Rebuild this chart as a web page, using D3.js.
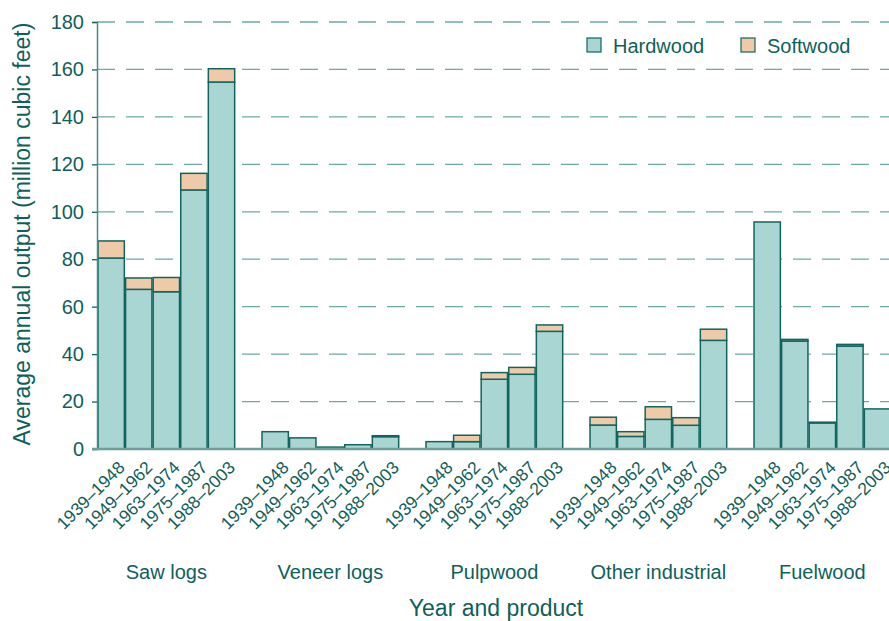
<!DOCTYPE html>
<html>
<head>
<meta charset="utf-8">
<script src="https://cdn.jsdelivr.net/npm/d3@7"></script>
<style>
  body { margin: 0; background: #fff; }
  svg text { font-family: "Liberation Sans", Arial, sans-serif; fill: #0f5f5a; }
</style>
</head>
<body>
<div id="chart"></div>
<script>
// chart data
var products = ["Saw logs", "Veneer logs", "Pulpwood", "Other industrial", "Fuelwood"];
var periods = ["1939\u20131948", "1949\u20131962", "1963\u20131974", "1975\u20131987", "1988\u20132003"];
var hardwood = [
  [80.5, 67.3, 66.3, 109.2, 154.7],
  [7.3, 4.7, 0.8, 1.8, 5.2],
  [3.1, 3.1, 29.4, 31.5, 49.6],
  [10.1, 5.3, 12.5, 10.0, 45.8],
  [95.7, 45.5, 11.0, 43.4, 16.9]
];
var softwood = [
  [7.2, 4.8, 6.0, 7.0, 5.6],
  [0, 0, 0, 0, 0.4],
  [0, 2.7, 2.8, 2.9, 2.7],
  [3.3, 2.0, 5.3, 3.2, 4.7],
  [0, 0.7, 0.3, 0.7, 0]
];
var yTicks = [0, 20, 40, 60, 80, 100, 120, 140, 160, 180];

// svg canvas dimensions
var W = 889, H = 621;
var margin = { top: 22, right: 0, bottom: 172, left: 97 },
    height = H - margin.top - margin.bottom;

var colHard = "#a9d5d3", colSoft = "#efcaa8", colStroke = "#12655f";

var svg = d3.select("#chart").append("svg")
    .attr("width", W)
    .attr("height", H);

// scales
var x0 = d3.scaleBand().domain(products).range([98, 890.7]).paddingInner(27.33 / 164).paddingOuter(0);
var x1 = d3.scaleBand().domain(periods).range([0, x0.bandwidth()]).paddingInner(0.045).paddingOuter(0);
var y = d3.scaleLinear().domain([0, 180]).range([margin.top + height, margin.top]);

// dashed grid lines
svg.append("g")
  .selectAll("line")
  .data(yTicks.slice(1))
  .enter().append("line")
    .attr("x1", margin.left)
    .attr("x2", W)
    .attr("y1", function(d) { return y(d); })
    .attr("y2", function(d) { return y(d); })
    .attr("stroke", "#6ea9a5")
    .attr("stroke-width", 1.3)
    .attr("stroke-dasharray", "18,11");

// bars
var rows = [];
products.forEach(function(p, g) {
  periods.forEach(function(per, i) {
    rows.push({ product: p, period: per, hard: hardwood[g][i], soft: softwood[g][i] });
  });
});

var bars = svg.append("g").selectAll("g")
  .data(rows)
  .enter().append("g")
    .attr("transform", function(d) { return "translate(" + (x0(d.product) + x1(d.period)) + ",0)"; });

bars.append("rect")
    .attr("x", 0)
    .attr("width", x1.bandwidth())
    .attr("y", function(d) { return y(d.hard); })
    .attr("height", function(d) { return y(0) - y(d.hard); })
    .attr("fill", colHard)
    .attr("stroke", colStroke)
    .attr("stroke-width", 1.5);

bars.filter(function(d) { return d.soft > 0; })
  .append("rect")
    .attr("x", 0)
    .attr("width", x1.bandwidth())
    .attr("y", function(d) { return y(d.hard + d.soft); })
    .attr("height", function(d) { return y(d.hard) - y(d.hard + d.soft); })
    .attr("fill", colSoft)
    .attr("stroke", colStroke)
    .attr("stroke-width", 1.5);

// y axis
var yAxis = svg.append("g")
    .attr("transform", "translate(" + margin.left + ",0)")
    .call(d3.axisLeft(y).tickValues(yTicks).tickSize(5).tickPadding(8));
yAxis.select(".domain").attr("stroke", "#4b8c88").attr("stroke-width", 1.5);
yAxis.selectAll(".tick line").attr("stroke", "#12655f").attr("stroke-width", 1.3);
yAxis.selectAll(".tick text").style("font-size", "20px").attr("fill", "#0f5f5a");

// baseline
svg.append("line")
    .attr("x1", margin.left - 5).attr("x2", W)
    .attr("y1", y(0)).attr("y2", y(0))
    .attr("stroke", "#6e9e9b").attr("stroke-width", 2.5);

// period labels
svg.append("g").selectAll("text")
  .data(rows)
  .enter().append("text")
    .attr("transform", function(d) {
      var cx = x0(d.product) + x1(d.period) + x1.bandwidth() / 2 + 6;
      return "translate(" + cx + "," + (y(0) + 11) + ") rotate(-45)";
    })
    .attr("text-anchor", "end")
    .attr("dy", "0.7em")
    .style("font-size", "17.5px")
    .text(function(d) { return d.period; });

// product labels
svg.append("g").selectAll("text")
  .data(products)
  .enter().append("text")
    .attr("x", function(d) { return x0(d) + x0.bandwidth() / 2; })
    .attr("y", 579)
    .attr("text-anchor", "middle")
    .style("font-size", "20px")
    .text(function(d) { return d; });

// axis titles
svg.append("text")
    .attr("x", 496)
    .attr("y", 616)
    .attr("text-anchor", "middle")
    .style("font-size", "23px")
    .text("Year and product");

svg.append("text")
    .attr("transform", "translate(30,234) rotate(-90)")
    .attr("text-anchor", "middle")
    .style("font-size", "23px")
    .text("Average annual output (million cubic feet)");

// legend
var legend = [
  { name: "Hardwood", color: colHard, x: 587 },
  { name: "Softwood", color: colSoft, x: 741 }
];
var lg = svg.append("g").selectAll("g")
  .data(legend)
  .enter().append("g")
    .attr("transform", function(d) { return "translate(" + d.x + ",38)"; });
lg.append("rect")
    .attr("width", 14).attr("height", 14)
    .attr("fill", function(d) { return d.color; })
    .attr("stroke", colStroke).attr("stroke-width", 1.2);
lg.append("text")
    .attr("x", 26).attr("y", 15)
    .style("font-size", "20px")
    .text(function(d) { return d.name; });
</script>
</body>
</html>
